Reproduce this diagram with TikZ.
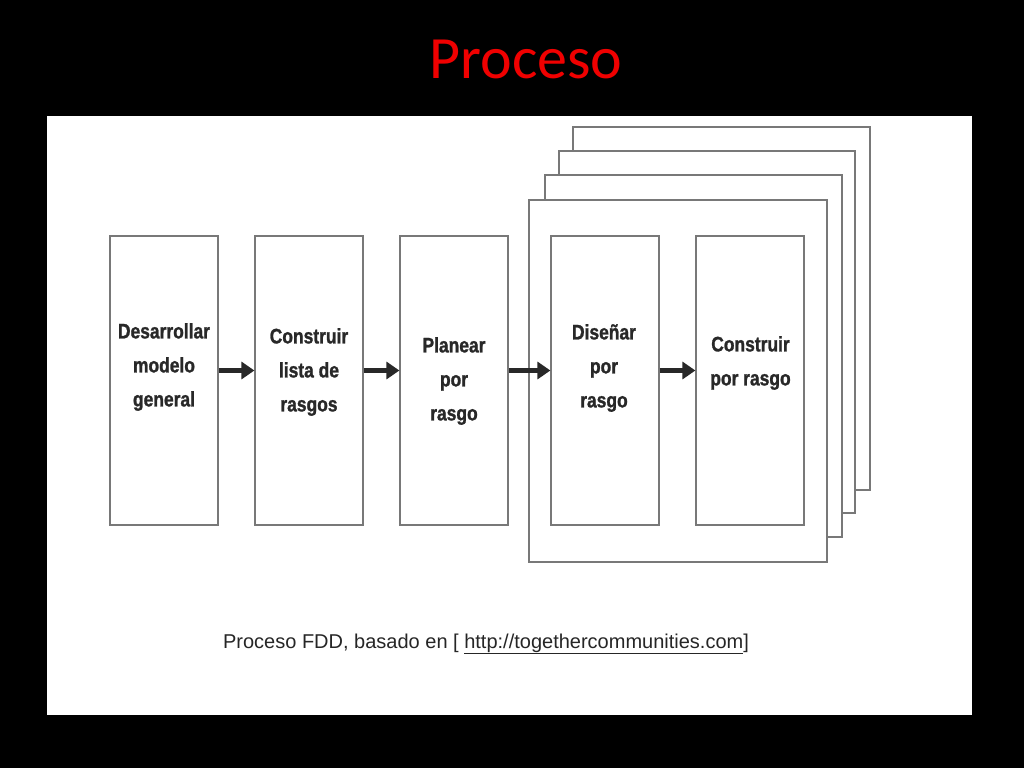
\documentclass[tikz,border=0pt]{standalone}
\usepackage{fontspec}
\setmainfont{Liberation Sans}
\newfontfamily\titlefont{Carlito}
\newfontfamily\boxfont[FakeStretch=0.83,FakeBold=1.2]{Liberation Sans}
\usetikzlibrary{arrows.meta}
\definecolor{titlered}{RGB}{240,0,0}
\definecolor{inkgray}{RGB}{40,40,40}
\definecolor{linegray}{RGB}{120,120,120}
\tikzset{
  stepbox/.style={draw=linegray, line width=1.2pt, fill=white, minimum width=108pt, minimum height=289pt, inner sep=0pt},
  framebox/.style={draw=linegray, line width=1.2pt, fill=white},
  boxtext/.style={font=\boxfont\bfseries\fontsize{21}{34}\selectfont, text=inkgray, align=center, inner sep=0pt},
  flow/.style={draw=inkgray, line width=5pt, -{Triangle[length=13pt,width=17pt]}, shorten >=0pt}
}
\begin{document}
\begin{tikzpicture}[x=1pt,y=-1pt]
\useasboundingbox (0,0) rectangle (1024,768);
\fill[black] (0,0) rectangle (1024,768);
\node[font=\titlefont\fontsize{60}{60}\selectfont, text=titlered, anchor=base] (title) at (526,78) {Proceso};
\fill[white] (47,116) rectangle (972,715);
% stacked frames (back to front)
\draw[framebox] (573,127) rectangle (870,490);
\draw[framebox] (559,151) rectangle (855,513);
\draw[framebox] (545,175) rectangle (842,537);
\draw[framebox] (529,200) rectangle (827,562);
% step boxes
\node[stepbox] (b1) at (164,380.5) {};
\node[stepbox] (b2) at (309,380.5) {};
\node[stepbox] (b3) at (454,380.5) {};
\node[stepbox] (b4) at (605,380.5) {};
\node[stepbox] (b5) at (750,380.5) {};
\node[boxtext] (t1) at (164,367) {Desarrollar\\modelo\\general};
\node[boxtext] (t2) at (309,372) {Construir\\lista de\\rasgos};
\node[boxtext] (t3) at (454,381) {Planear\\por\\rasgo};
\node[boxtext] (t4) at (604,368) {Diseñar\\por\\rasgo};
\node[boxtext] (t5) at (750.5,363) {Construir\\por rasgo};
% arrows
\draw[flow] ([yshift=10pt]b1.east) -- ([yshift=10pt]b2.west);
\draw[flow] ([yshift=10pt]b2.east) -- ([yshift=10pt]b3.west);
\draw[flow] ([yshift=10pt]b3.east) -- ([yshift=10pt]b4.west);
\draw[flow] ([yshift=10pt]b4.east) -- ([yshift=10pt]b5.west);
% caption
\node[font=\fontsize{20}{20}\selectfont, text=black!85, anchor=base] (cap) at (486,648) {Proceso FDD, basado en [ \underline{http://togethercommunities.com}]};
\end{tikzpicture}
\end{document}
